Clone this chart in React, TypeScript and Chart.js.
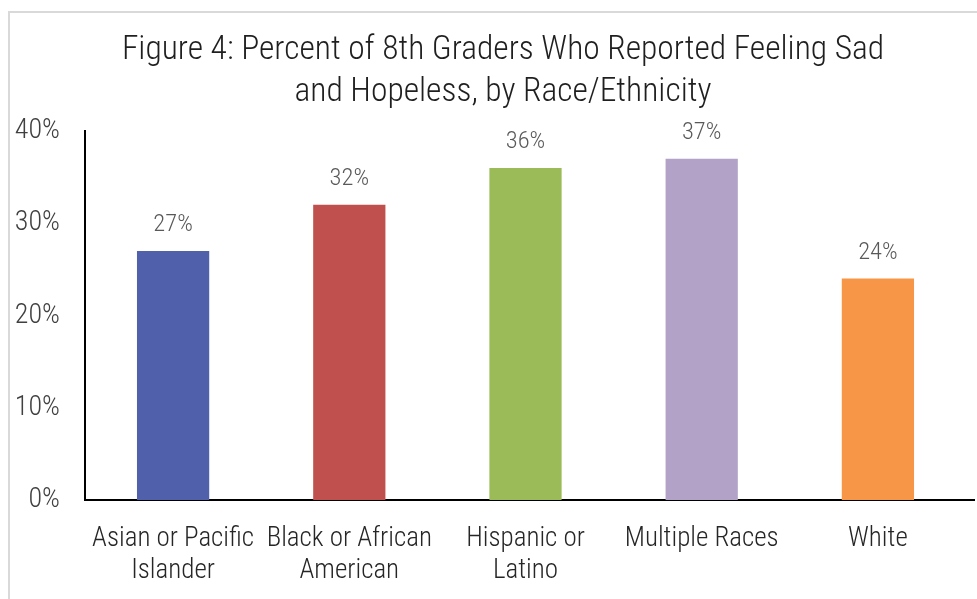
import React, { useEffect, useRef } from "react";
import { Chart, registerables } from "chart.js";

Chart.register(...registerables);

const titleLines = ["Figure 4: Percent of 8th Graders Who Reported Feeling Sad", "and Hopeless, by Race/Ethnicity"];
const categories: string[][] = [
  ["Asian or Pacific", "Islander"],
  ["Black or African", "American"],
  ["Hispanic or", "Latino"],
  ["Multiple Races"],
  ["White"],
];
const values = [27, 32, 36, 37, 24];
const barColors = ["#5060AA", "#C0504D", "#9BBB59", "#B3A2C7", "#F79646"];
const yTicks = [0, 10, 20, 30, 40];

const FONT = "Roboto, 'Open Sans', sans-serif";
const WEIGHT = "condensed 300";

const titlePlugin = {
  id: "centeredTitle",
  afterDraw(chart: any) {
    const ctx = chart.ctx;
    ctx.save();
    ctx.font = `${WEIGHT} 33.5px ${FONT}`;
    ctx.fillStyle = "#1f1f1f";
    ctx.textAlign = "center";
    ctx.textBaseline = "middle";
    titleLines.forEach((line, i) => {
      ctx.fillText(line, chart.width / 2, 38 + i * 42);
    });
    ctx.restore();
  },
};

const dataLabelPlugin = {
  id: "dataLabels",
  afterDatasetsDraw(chart: any) {
    const ctx = chart.ctx;
    const meta = chart.getDatasetMeta(0);
    ctx.save();
    ctx.font = `${WEIGHT} 24.5px ${FONT}`;
    ctx.fillStyle = "#595959";
    ctx.textAlign = "center";
    ctx.textBaseline = "middle";
    meta.data.forEach((bar: any, i: number) => {
      ctx.fillText(`${values[i]}%`, bar.x, bar.y - 26);
    });
    ctx.restore();
  },
};

const axisExtendPlugin = {
  id: "axisExtend",
  afterDraw(chart: any) {
    const { ctx, chartArea } = chart;
    ctx.save();
    ctx.strokeStyle = "#000";
    ctx.lineWidth = 2;
    ctx.beginPath();
    ctx.moveTo(chartArea.right - 1, chartArea.bottom);
    ctx.lineTo(chartArea.right + 9, chartArea.bottom);
    ctx.stroke();
    ctx.restore();
  },
};

export default function App() {
  const ref = useRef<HTMLCanvasElement | null>(null);

  useEffect(() => {
    if (!ref.current) return;
    const chart = new Chart(ref.current, {
      type: "bar",
      data: {
        labels: categories,
        datasets: [
          {
            data: values,
            backgroundColor: barColors,
            borderWidth: 0,
            categoryPercentage: 1,
            barPercentage: 0.41,
          },
        ],
      },
      options: {
        responsive: false,
        animation: false,
        devicePixelRatio: 1,
        layout: { padding: { left: 0, right: 30, top: 118, bottom: 0 } },
        plugins: {
          legend: { display: false },
          tooltip: { enabled: false },
          title: { display: false },
        },
        scales: {
          x: {
            grid: { display: false, drawTicks: false },
            border: { display: true, color: "#000", width: 2 },
            ticks: {
              color: "#262626",
              font: { family: FONT, size: 27, weight: WEIGHT as any, lineHeight: 32 / 27 },
              padding: 23,
              maxRotation: 0,
              autoSkip: false,
            },
            afterFit(scale: any) {
              scale.height = 99;
            },
          },
          y: {
            min: 0,
            max: 40,
            grid: { display: false, drawTicks: false },
            border: { display: true, color: "#000", width: 2 },
            afterBuildTicks(scale: any) {
              scale.ticks = yTicks.map((v) => ({ value: v }));
            },
            ticks: {
              color: "#404040",
              font: { family: FONT, size: 28, weight: WEIGHT as any },
              padding: 25,
              callback: (v: any) => `${v}%`,
            },
            afterFit(scale: any) {
              scale.width = 75;
            },
          },
        },
      },
      plugins: [titlePlugin, dataLabelPlugin, axisExtendPlugin],
    });
    return () => chart.destroy();
  }, []);

  return (
    <div
      style={{
        position: "fixed",
        left: 0,
        top: 0,
        width: 977,
        height: 599,
        overflow: "hidden",
        background: "#fff",
      }}
    >
      <div
        style={{
          position: "absolute",
          left: 8,
          top: 11,
          width: 1100,
          height: 700,
          borderLeft: "2px solid #d9d9d9",
          borderTop: "2px solid #d9d9d9",
        }}
      >
        <canvas ref={ref} width={986} height={586} style={{ display: "block" }} />
      </div>
    </div>
  );
}
